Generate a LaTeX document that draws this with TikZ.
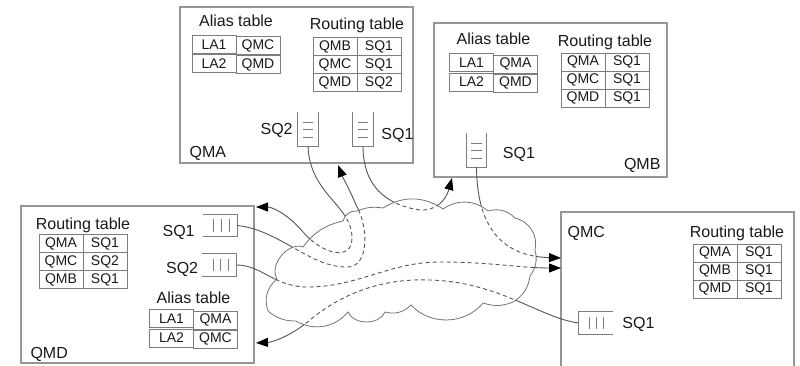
\documentclass[tikz,border=0pt]{standalone}
\usepackage{fontspec}
\setmainfont{Liberation Sans}
\usetikzlibrary{arrows.meta,positioning,matrix,calc}
\definecolor{boxgray}{RGB}{150,150,150}
\definecolor{tblgray}{RGB}{125,125,125}
\definecolor{linegray}{RGB}{85,85,85}
\definecolor{cloudgray}{RGB}{115,115,115}
\definecolor{txt}{RGB}{25,25,25}
\tikzset{
  qbox/.style={draw=boxgray, line width=1.3pt, inner sep=0pt},
  tbl/.style={matrix of nodes, inner sep=0pt, column sep=-0.8pt, row sep=-0.8pt,
    nodes={draw=tblgray, line width=0.8pt, minimum width=44pt, minimum height=18pt,
      inner sep=0pt, text=txt, font=\fontsize{14}{16}\selectfont}},
  ttl/.style={inner sep=0pt, text depth=0pt, text=txt, font=\fontsize{16}{18}\selectfont},
  vq/.style={minimum width=20pt, minimum height=34pt, inner sep=0pt},
  hq/.style={minimum width=34pt, minimum height=22pt, inner sep=0pt},
  qline/.style={draw=tblgray, line width=0.8pt},
  cloudline/.style={draw=cloudgray, line width=0.8pt},
  route/.style={draw=linegray, line width=0.9pt, -{Triangle[length=12pt,width=9pt,color=black]}},
}
% cloud outline, used for drawing and for clipping
\newcommand\cloudpath{(268,311) to[bend left=35] (277,279) to[bend left=70] (303,247)
  to[bend left=20] (343,221) to[bend left=40] (357,211) to[bend left=15] (383,208)
  to[bend left=33] (443,209) to[bend left=37] (488,211) to[bend left=30] (515,218)
  to[bend left=45] (535,250) to[bend left=25] (530,276) to[bend left=25] (513,302)
  to[bend left=20] (483,303) to[bend left=49] (411,305) to[bend left=30] (385,312)
  to[bend left=67] (348,312) to[bend left=40] (296,321) to[bend left=20] (268,311) -- cycle}
% message routes between the queues
\newcommand\qroutes{%
  \draw[route] (qa2.south) .. controls (310,195) and (352,205) .. (352,238)
    .. controls (352,262) and (322,254) .. (303,232)
    .. controls (288,214) and (272,207) .. (qmdin1);
  \draw[route] (qa1.south) .. controls (363,185) and (385,205) .. (420,210)
    .. controls (436,211) and (446,200) .. (qmbin);
  \draw[route] (qb1.south) .. controls (477,225) and (500,256) .. (qmcin1);
  \draw[route] (qd1.east) .. controls (280,230) and (310,268) .. (348,267)
    .. controls (370,266) and (368,225) .. (356,205)
    .. controls (350,190) and (343,178) .. (qmain);
  \draw[route] (qd2.east) .. controls (262,265) and (275,288) .. (310,287)
    .. controls (360,286) and (390,262) .. (440,262)
    .. controls (490,262) and (520,268) .. (qmcin2);
  \draw[route] (qc1.west) .. controls (540,318) and (500,282) .. (430,280)
    .. controls (380,278) and (340,295) .. (310,320)
    .. controls (295,333) and (275,342) .. (qmdin2);
}
\begin{document}
\begin{tikzpicture}[x=1pt,y=-1pt]
\useasboundingbox (0,0) rectangle (800,366);
% queue managers
\node[qbox, minimum width=233pt, minimum height=156pt] (qma) at (296.5,85) {};
\node[qbox, minimum width=233pt, minimum height=154pt] (qmb) at (550.5,100) {};
\node[qbox, minimum width=233pt, minimum height=157pt] (qmd) at (137.5,284.5) {};
\node[qbox, minimum width=233pt, minimum height=178pt] (qmc) at (677.5,301) {};
\node[ttl, above right=6pt and 10pt of qma.south west] (qmal) {QMA};
\node[ttl, above left=8pt and 7pt of qmb.south east] (qmbl) {QMB};
\node[ttl, above right=5pt and 10pt of qmd.south west] (qmdl) {QMD};
\node[ttl, below right=15pt and 7pt of qmc.north west] (qmcl) {QMC};

% tables
\matrix[tbl] (maal) at (236,54.5) {LA1 & QMC\\ LA2 & QMD\\};
\node[ttl, above=8pt of maal] (maalt) {Alias table};
\matrix[tbl] (mart) at (357,64.5) {QMB & SQ1\\ QMC & SQ1\\ QMD & SQ2\\};
\node[ttl, above=7pt of mart] (martt) {Routing table};
\matrix[tbl] (mbal) at (493.5,73) {LA1 & QMA\\ LA2 & QMD\\};
\node[ttl, above=8pt of mbal] (mbalt) {Alias table};
\matrix[tbl] (mbrt) at (605,80) {QMA & SQ1\\ QMC & SQ1\\ QMD & SQ1\\};
\node[ttl, above=6pt of mbrt] (mbrtt) {Routing table};
\matrix[tbl] (mdrt) at (83,261.5) {QMA & SQ1\\ QMC & SQ2\\ QMB & SQ1\\};
\node[ttl, above=4pt of mdrt] (mdrtt) {Routing table};
\matrix[tbl] (mdal) at (193.5,329) {LA1 & QMA\\ LA2 & QMC\\};
\node[ttl, above=5pt of mdal] (mdalt) {Alias table};
\matrix[tbl] (mcrt) at (737,271) {QMA & SQ1\\ QMB & SQ1\\ QMD & SQ1\\};
\node[ttl, above=6pt of mcrt] (mcrtt) {Routing table};

% transmission queues
\node[vq] (qa2) at (308,129) {};
\node[vq] (qa1) at (363,129) {};
\node[vq] (qb1) at (476.5,150) {};
\node[hq] (qd1) at (220,225.5) {};
\node[hq] (qd2) at (219.5,265) {};
\node[hq] (qc1) at (596,323) {};
\foreach \q in {qa2,qa1,qb1}{
  \draw[qline] (\q.north west) |- (\q.south east) -- (\q.north east);
  \foreach \f in {0.3,0.52,0.75}
    \draw[qline] ($(\q.north west)!\f!(\q.south west)+(5pt,0pt)$) -- ($(\q.north east)!\f!(\q.south east)+(-5pt,0pt)$);
}
\foreach \q in {qd1,qd2}{
  \draw[qline] (\q.north west) -| (\q.south east) -- (\q.south west);
  \foreach \f in {0.32,0.53,0.76}
    \draw[qline] ($(\q.north west)!\f!(\q.north east)+(0pt,-5pt)$) -- ($(\q.south west)!\f!(\q.south east)+(0pt,5pt)$);
}
\draw[qline] (qc1.north east) -| (qc1.south west) -- (qc1.south east);
\foreach \f in {0.3,0.5,0.72}
  \draw[qline] ($(qc1.north west)!\f!(qc1.north east)+(0pt,-5pt)$) -- ($(qc1.south west)!\f!(qc1.south east)+(0pt,5pt)$);
\node[ttl, left=5pt of qa2] (qa2l) {SQ2};
\node[ttl, right=8pt of qa1, yshift=-5pt] (qa1l) {SQ1};
\node[ttl, right=16pt of qb1, yshift=-3pt] (qb1l) {SQ1};
\node[ttl, left=8pt of qd1, yshift=-5pt] (qd1l) {SQ1};
\node[ttl, left=4pt of qd2, yshift=-3pt] (qd2l) {SQ2};
\node[ttl, right=9pt of qc1] (qc1l) {SQ1};

% arrival points
\coordinate (qmain) at (338,165);
\coordinate (qmbin) at (452,178);
\coordinate (qmcin1) at (561,258);
\coordinate (qmcin2) at (561,268);
\coordinate (qmdin1) at (256,207);
\coordinate (qmdin2) at (256,343);

% network cloud
\draw[cloudline] \cloudpath;
\begin{scope}[dash pattern=on 4pt off 3pt]
  \clip \cloudpath;
  \qroutes
\end{scope}
\begin{scope}[even odd rule]
  \clip (0,0) rectangle (800,366) \cloudpath;
  \qroutes
\end{scope}
\end{tikzpicture}
\end{document}
